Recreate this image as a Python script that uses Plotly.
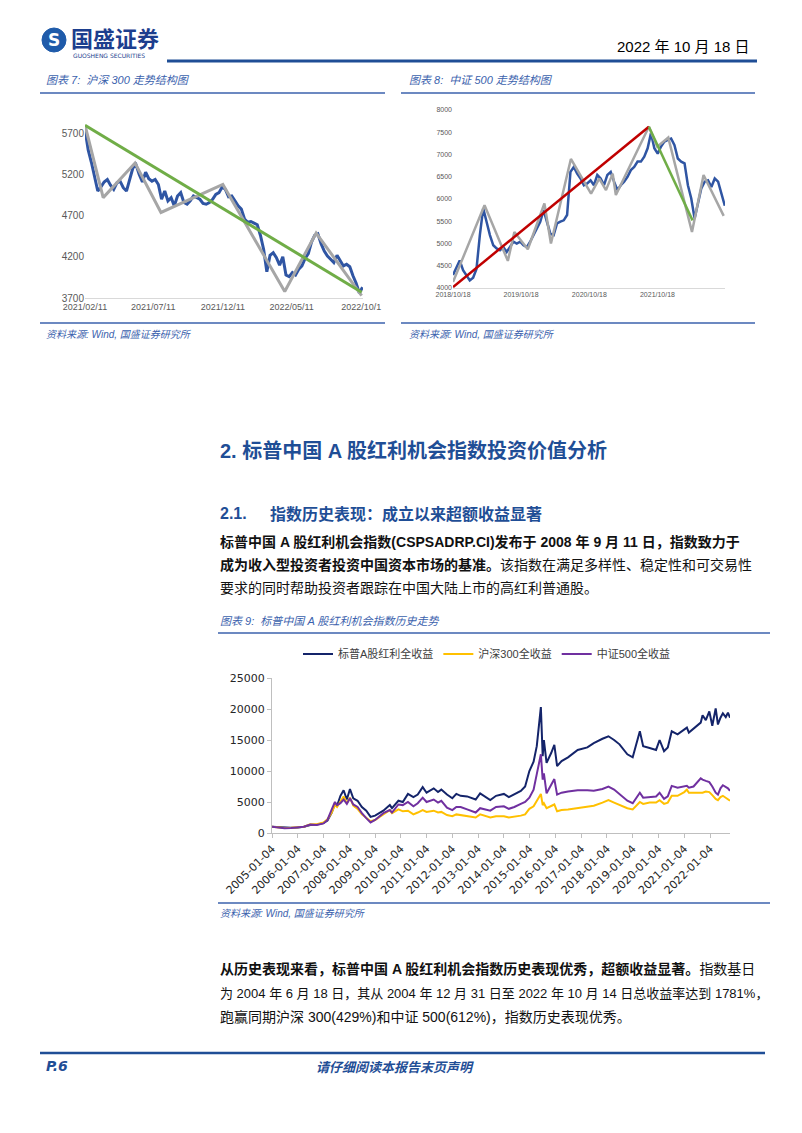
import plotly.graph_objects as go
import pandas as pd

# The page body adds an 8px offset; the figure fills the rest of the 802x1133 window.
OFF = 8
W, H = 802 - OFF, 1133 - OFF


def X(px):
    return (px - OFF) / W


def Y(py):
    return 1 - (py - OFF) / H


# ---------------- Chart 7: 沪深300 走势结构 ----------------
hs300_start, hs300_end = "2021-02-11", "2022-10-14"
hs300_close = [5750, 5500, 5350, 5180, 5000, 5050, 5110, 5140, 5070, 5020,
               5100, 5120, 5040, 5000, 5150, 5280, 5320, 5200, 5110, 5230,
               5150, 5120, 5140, 5080, 4900, 5000, 4880, 4920, 4820, 4940,
               4980, 4860, 4840, 4880, 4940, 4920, 4900, 4850, 4840, 4860,
               4900, 4960, 4980, 5050, 5020, 4930, 4940, 4880, 4820, 4780,
               4660, 4620, 4630, 4610, 4590, 4460, 4290, 4020, 4220, 4250,
               4190, 4100, 4200, 3980, 3960, 4010, 3980, 4050, 4090, 4180,
               4240, 4380, 4460, 4480, 4360, 4270, 4210, 4170, 4130, 4220,
               4150, 4090, 4110, 4080, 3970, 3880, 3760, 3830]
hs300_zig_dates = ["2021-02-11", "2021-03-23", "2021-06-01", "2021-07-28",
                   "2021-12-11", "2022-04-26", "2022-07-04", "2022-10-12"]
hs300_zig_vals = [5800, 4920, 5340, 4740, 5080, 3780, 4490, 3730]
hs300_trend_dates = ["2021-02-11", "2022-10-12"]
hs300_trend_vals = [5800, 3770]
c7_tickvals = ["2021-02-11", "2021-07-11", "2021-12-11", "2022-05-11", "2022-10-11"]
c7_ticktext = ["2021/02/11", "2021/07/11", "2021/12/11", "2022/05/11", "2022/10/1"]
c7_yticks = [3700, 4200, 4700, 5200, 5700]

# ---------------- Chart 8: 中证500 走势结构 ----------------
zz500_start, zz500_end = "2018-10-18", "2022-10-14"
zz500_close = [4290, 4440, 4620, 4400, 4290, 4170, 4230, 4430, 5190, 5790,
               5490, 5190, 4960, 4890, 4850, 4920, 4810, 4920, 5040, 5000,
               5040, 4960, 4920, 5040, 5190, 5340, 5490, 5750, 5490, 5220,
               5190, 5450, 5490, 5520, 5640, 6610, 6720, 6570, 6460, 6310,
               6350, 6420, 6310, 6540, 6460, 6310, 6540, 6610, 6390, 6200,
               6310, 6390, 6500, 6650, 6720, 6840, 6840, 6950, 7140, 7480,
               7140, 7020, 7180, 7290, 7330, 7360, 7210, 6910, 6840, 6800,
               6310, 6010, 5560, 5940, 6240, 6390, 6420, 6270, 6460, 6390,
               6100, 5850]
zz500_zig_dates = ["2018-10-18", "2019-04-05", "2019-08-08", "2019-09-12",
                   "2019-11-23", "2020-02-20", "2020-03-26", "2020-07-11",
                   "2020-10-27", "2020-12-10", "2021-01-15", "2021-02-20",
                   "2021-03-09", "2021-09-02", "2021-10-17", "2021-12-15",
                   "2022-04-21", "2022-06-22", "2022-10-08"]
zz500_zig_vals = [4135, 5860, 4610, 5260, 4870, 5900, 5000, 6900, 6120,
                  6460, 6200, 6570, 6090, 7625, 7175, 7380, 5260, 6540, 5620]
zz500_up_dates = ["2018-10-18", "2021-09-02"]
zz500_up_vals = [4020, 7625]
zz500_down_dates = ["2021-09-02", "2022-04-24"]
zz500_down_vals = [7625, 5520]
c8_tickvals = ["2018-10-18", "2019-10-18", "2020-10-18", "2021-10-18"]
c8_ticktext = ["2018/10/18", "2019/10/18", "2020/10/18", "2021/10/18"]

# ---------------- Chart 9: 全收益历史走势 ----------------
dates9 = ["2005-01-04", "2005-04-01", "2005-07-01", "2005-10-01", "2006-01-04",
          "2006-04-01", "2006-07-01", "2006-10-01", "2007-01-04", "2007-03-01",
          "2007-05-01", "2007-06-15", "2007-07-15", "2007-09-01", "2007-10-16",
          "2007-12-01", "2008-01-14", "2008-03-01", "2008-05-01", "2008-07-01",
          "2008-09-01", "2008-11-01", "2009-01-04", "2009-03-01", "2009-05-01",
          "2009-08-01", "2009-09-01", "2009-12-01", "2010-02-01", "2010-04-15",
          "2010-07-01", "2010-09-01", "2010-11-10", "2011-01-04", "2011-04-15",
          "2011-06-15", "2011-08-01", "2011-10-20", "2012-01-04", "2012-03-01",
          "2012-05-01", "2012-08-01", "2012-11-30", "2013-02-01", "2013-06-25",
          "2013-09-15", "2014-01-04", "2014-03-15", "2014-06-01", "2014-09-01",
          "2014-11-01", "2014-12-31", "2015-03-01", "2015-04-15", "2015-06-12",
          "2015-07-08", "2015-07-25", "2015-09-01", "2015-11-05", "2015-12-20",
          "2016-01-28", "2016-04-01", "2016-07-01", "2016-11-15", "2017-04-01",
          "2017-07-01", "2017-11-01", "2018-01-25", "2018-04-15", "2018-07-01",
          "2018-10-20", "2019-01-04", "2019-04-15", "2019-06-01", "2019-09-01",
          "2019-12-01", "2020-01-20", "2020-03-23", "2020-05-15", "2020-07-10",
          "2020-10-01", "2021-01-04", "2021-02-10", "2021-03-10", "2021-05-15",
          "2021-08-25", "2021-09-20", "2021-11-05", "2021-12-25", "2022-02-05",
          "2022-03-25", "2022-04-26", "2022-06-01", "2022-07-05", "2022-08-15",
          "2022-09-15", "2022-10-14"]
sp_div_tr = [1000, 950, 800, 850, 900, 1000, 1300, 1350, 1600, 2000,
             3300, 4800, 4400, 6000, 6900, 5400, 7100, 5600, 5200, 4200,
             3600, 2600, 2800, 3200, 3600, 4500, 4000, 5200, 5000, 6300,
             5800, 6200, 7400, 6500, 7200, 6600, 7000, 6200, 5600, 6300,
             6000, 5900, 5400, 6400, 5300, 6000, 6300, 5800, 6300, 6800,
             7500, 10000, 11500, 14000, 20300, 12400, 15000, 11300, 12900, 14200,
             10800, 11600, 12200, 13400, 13800, 14500, 15200, 15600, 15000, 14300,
             12700, 12200, 16400, 14000, 13700, 13400, 15000, 13200, 13800, 16400,
             15900, 16600, 17000, 16200, 16800, 17800, 19000, 18200, 19600, 17300,
             20100, 17500, 18600, 19300, 18700, 19400, 18600]
hs300_tr = [1000, 900, 800, 850, 900, 1000, 1400, 1400, 1700, 2200,
            3300, 4500, 4200, 5200, 5900, 4800, 5700, 4400, 3900, 3000,
            2500, 1900, 2100, 2600, 3000, 3700, 3200, 3800, 3500, 3600,
            3000, 3300, 3700, 3400, 3600, 3300, 3400, 2900, 2700, 3000,
            2900, 2700, 2500, 3000, 2500, 2700, 2700, 2500, 2600, 2800,
            3000, 3900, 4300, 5200, 6300, 4500, 4800, 4000, 4400, 4600,
            3500, 3700, 3800, 4000, 4200, 4400, 4900, 5300, 4900, 4500,
            4000, 3800, 5000, 4700, 4900, 4900, 5300, 4700, 4900, 6000,
            6000, 6600, 7000, 6500, 6500, 6500, 6500, 6700, 6600, 6100,
            5500, 5300, 5800, 6000, 5700, 5500, 5200]
zz500_tr = [1000, 900, 750, 800, 900, 1000, 1350, 1300, 1550, 2100,
            3800, 5000, 4500, 4800, 5400, 4700, 5600, 4600, 4200, 3200,
            2400, 1700, 2100, 2700, 3200, 3700, 3300, 4600, 4500, 5000,
            4300, 4800, 5700, 5000, 5400, 4900, 5200, 4100, 3700, 4200,
            4200, 3800, 3300, 4000, 3600, 4200, 4300, 3900, 4200, 4700,
            5000, 5700, 7000, 9500, 12700, 8600, 9600, 6400, 7800, 8700,
            6200, 6500, 6700, 6900, 6900, 6800, 7100, 7500, 7000, 6200,
            5200, 4800, 6500, 5700, 5800, 5900, 6500, 5500, 5900, 7600,
            7300, 7500, 7600, 7300, 7500, 8800, 8600, 8400, 8200, 7500,
            6500, 6200, 7200, 7700, 7400, 7200, 6800]
series9_names = ["标普A股红利全收益", "沪深300全收益", "中证500全收益"]
c9_years = list(range(2005, 2023))
c9_tickvals = [f"{y}-01-04" for y in c9_years]
c9_yticks = [0, 5000, 10000, 15000, 20000, 25000]

# ---------------- styles ----------------
BLUE_LINE = "#2F55A3"
GRAY_LINE = "#A6A6A6"
GREEN_LINE = "#70AD47"
RED_LINE = "#C00000"
NAVY = "#14246A"
YELLOW = "#FFC000"
PURPLE = "#7030A0"
HEAD_BLUE = "#1F4E96"
CAP_BLUE = "#3B62AD"
CJK = "Noto Sans CJK SC"
MIX = "Liberation Sans, Noto Sans CJK SC"

fig = go.Figure()

# chart 7
fig.add_trace(go.Scatter(
    x=pd.date_range(hs300_start, hs300_end, periods=len(hs300_close)), y=hs300_close,
    mode="lines", line=dict(color=BLUE_LINE, width=3), xaxis="x", yaxis="y",
    showlegend=False, hoverinfo="skip"))
fig.add_trace(go.Scatter(
    x=hs300_zig_dates, y=hs300_zig_vals, mode="lines",
    line=dict(color=GRAY_LINE, width=3), xaxis="x", yaxis="y",
    showlegend=False, hoverinfo="skip"))
fig.add_trace(go.Scatter(
    x=hs300_trend_dates, y=hs300_trend_vals, mode="lines",
    line=dict(color=GREEN_LINE, width=3), xaxis="x", yaxis="y",
    showlegend=False, hoverinfo="skip"))

# chart 8
fig.add_trace(go.Scatter(
    x=pd.date_range(zz500_start, zz500_end, periods=len(zz500_close)), y=zz500_close,
    mode="lines", line=dict(color=BLUE_LINE, width=2.5), xaxis="x2", yaxis="y2",
    showlegend=False, hoverinfo="skip"))
fig.add_trace(go.Scatter(
    x=zz500_zig_dates, y=zz500_zig_vals, mode="lines",
    line=dict(color=GRAY_LINE, width=2.5), xaxis="x2", yaxis="y2",
    showlegend=False, hoverinfo="skip"))
fig.add_trace(go.Scatter(
    x=zz500_up_dates, y=zz500_up_vals, mode="lines",
    line=dict(color=RED_LINE, width=2.5), xaxis="x2", yaxis="y2",
    showlegend=False, hoverinfo="skip"))
fig.add_trace(go.Scatter(
    x=zz500_down_dates, y=zz500_down_vals, mode="lines",
    line=dict(color=GREEN_LINE, width=2.5), xaxis="x2", yaxis="y2",
    showlegend=False, hoverinfo="skip"))

# chart 9
for name, vals, col in zip(series9_names, [sp_div_tr, hs300_tr, zz500_tr],
                           [NAVY, YELLOW, PURPLE]):
    fig.add_trace(go.Scatter(
        x=dates9, y=vals, name=name, mode="lines",
        line=dict(color=col, width=2), xaxis="x3", yaxis="y3",
        showlegend=True, hoverinfo="skip"))

tick_gray = dict(family="Liberation Sans, Arial", color="#595959")

fig.update_layout(
    width=W, height=H, autosize=False,
    margin=dict(l=0, r=0, t=0, b=0, pad=0, autoexpand=False),
    paper_bgcolor="white", plot_bgcolor="white",
    xaxis=dict(domain=[X(85), X(363)], anchor="y", type="date",
               range=["2021-02-11", "2022-10-15"],
               tickvals=c7_tickvals, ticktext=c7_ticktext,
               tickfont=dict(size=9, **tick_gray), automargin=False,
               showgrid=False, zeroline=False, showline=True,
               linecolor="#D9D9D9", linewidth=1, ticks=""),
    yaxis=dict(domain=[Y(298), Y(117)], anchor="x",
               range=[3700, 5900], tickvals=c7_yticks, automargin=False,
               tickfont=dict(size=10, **tick_gray),
               showgrid=False, zeroline=False, showline=False, ticks=""),
    xaxis2=dict(domain=[X(453), X(725)], anchor="y2", type="date",
                range=["2018-10-18", "2022-10-15"],
                tickvals=c8_tickvals, ticktext=c8_ticktext, automargin=False,
                tickfont=dict(size=7, **tick_gray),
                showgrid=False, zeroline=False, showline=True,
                linecolor="#D9D9D9", linewidth=1, ticks=""),
    yaxis2=dict(domain=[Y(288), Y(110)], anchor="x2",
                range=[4000, 8000], dtick=500, automargin=False,
                tickfont=dict(size=7, **tick_gray),
                showgrid=False, zeroline=False, showline=False, ticks=""),
    xaxis3=dict(domain=[X(272), X(730)], anchor="y3", type="date",
                range=["2005-01-04", "2022-10-14"],
                tickvals=c9_tickvals, ticktext=c9_tickvals, tickangle=-45,
                tickfont=dict(size=11, family="DejaVu Sans", color="#262626"),
                showgrid=False, zeroline=False, showline=True, automargin=False,
                linecolor="#BFBFBF", linewidth=1, ticks="outside",
                ticklen=4, tickcolor="#BFBFBF"),
    yaxis3=dict(domain=[Y(833), Y(678)], anchor="x3",
                range=[0, 25000], tickvals=c9_yticks,
                ticktext=[str(v) for v in c9_yticks], automargin=False,
                tickfont=dict(size=11, family="DejaVu Sans", color="#262626"),
                showgrid=False, zeroline=False, showline=True,
                linecolor="#BFBFBF", linewidth=1, ticks="outside",
                ticklen=4, tickcolor="#BFBFBF"),
    legend=dict(orientation="h", x=X(487), xanchor="center",
                y=Y(654), yanchor="middle",
                font=dict(size=11, family=MIX, color="#404040"),
                itemwidth=30, bgcolor="rgba(0,0,0,0)", traceorder="normal"),
    showlegend=True,
)

shapes = []


def hline(x0, x1, y, color=CAP_BLUE, width=1.5):
    shapes.append(dict(type="line", xref="paper", yref="paper",
                       x0=X(x0), x1=X(x1), y0=Y(y), y1=Y(y),
                       line=dict(color=color, width=width)))


# logo circle
shapes.append(dict(type="circle", xref="paper", yref="paper",
                   x0=X(42), x1=X(66), y0=Y(52), y1=Y(28),
                   fillcolor="#1F5BAA", line=dict(color="#1F5BAA", width=1)))
hline(167, 757, 61, HEAD_BLUE, 3)
hline(40, 385, 93)
hline(401, 755, 93)
hline(40, 385, 323)
hline(401, 755, 323)
hline(218, 770, 633)
hline(218, 770, 903)
hline(40, 765, 1053, HEAD_BLUE, 2.5)
fig.update_layout(shapes=shapes)

ann = []


def text(x, y, s, size, color="#000000", anchor="left", family=MIX):
    ann.append(dict(xref="paper", yref="paper", x=X(x), y=Y(y), text=s,
                    xanchor=anchor, yanchor="middle", showarrow=False,
                    font=dict(size=size, color=color, family=family)))


text(54, 40, "<b>S</b>", 17, "white", "center", "DejaVu Sans")
text(69, 37, "<b>国盛证券</b>", 22, "#1C3E8E", family=CJK)
text(71, 56, "GUOSHENG SECURITIES", 6, "#1C3E8E", family="DejaVu Sans")
text(752, 47, "2022 年 10 月 18 日", 15, "#000000", "right",
     family="Liberation Sans Narrow, Liberation Sans, Noto Sans CJK SC")

text(44, 80, "<i>图表 7:  沪深 300 走势结构图</i>", 11, CAP_BLUE)
text(407, 80, "<i>图表 8:  中证 500 走势结构图</i>", 11, CAP_BLUE)
text(44, 334, "<i>资料来源: Wind, 国盛证券研究所</i>", 10, CAP_BLUE)
text(407, 334, "<i>资料来源: Wind, 国盛证券研究所</i>", 10, CAP_BLUE)

text(218, 451, "<b>2. 标普中国 A 股红利机会指数投资价值分析</b>", 20, HEAD_BLUE)
text(218, 513, "<b>2.1.</b>", 16, HEAD_BLUE)
text(268, 513, "<b>指数历史表现：成立以来超额收益显著</b>", 16, HEAD_BLUE, family=CJK)

text(218, 542, "<b>标普中国 A 股红利机会指数(CSPSADRP.CI)发布于 2008 年 9 月 11 日，指数致力于</b>",
     14, "#111111")
text(218, 565, "<b>成为收入型投资者投资中国资本市场的基准。</b>该指数在满足多样性、稳定性和可交易性",
     14, "#111111")
text(218, 588, "要求的同时帮助投资者跟踪在中国大陆上市的高红利普通股。", 14, "#111111")

text(218, 621, "<i>图表 9:  标普中国 A 股红利机会指数历史走势</i>", 11, CAP_BLUE)
text(218, 913, "<i>资料来源: Wind, 国盛证券研究所</i>", 10, CAP_BLUE)

text(218, 969, "<b>从历史表现来看，标普中国 A 股红利机会指数历史表现优秀，超额收益显著。</b>指数基日",
     14, "#111111")
text(218, 993, "为 2004 年 6 月 18 日，其从 2004 年 12 月 31 日至 2022 年 10 月 14 日总收益率达到 1781%，",
     13, "#111111")
text(218, 1017, "跑赢同期沪深 300(429%)和中证 500(612%)，指数历史表现优秀。", 14, "#111111")

text(44, 1066, "<b><i>P.6</i></b>", 14, HEAD_BLUE, family="DejaVu Sans")
text(395, 1066, "<b><i>请仔细阅读本报告末页声明</i></b>", 13, HEAD_BLUE, "center", family=CJK)

fig.update_layout(annotations=ann)

fig.write_html("out.html")
